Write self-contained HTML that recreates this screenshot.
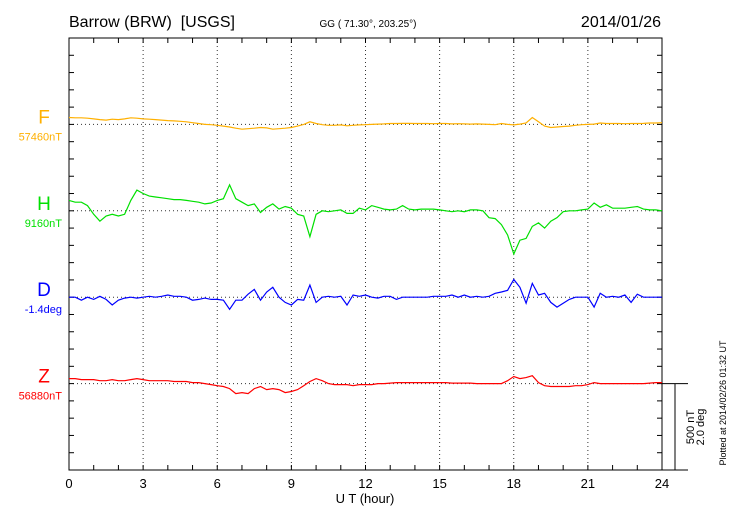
<!DOCTYPE html>
<html><head><meta charset="utf-8"><style>
html,body{margin:0;padding:0;background:#fff;}
svg{display:block;font-family:"Liberation Sans",sans-serif;}
</style></head><body>
<svg id="chart" width="730" height="520" viewBox="0 0 730 520">
<text x="69" y="27" font-size="16">Barrow (BRW)&#160; [USGS]</text>
<text x="368" y="27" font-size="10" text-anchor="middle">GG ( 71.30°, 203.25°)</text>
<text x="661" y="27" font-size="16" text-anchor="end">2014/01/26</text>
<g id="grid"></g><g id="axes"></g><g id="series"></g>
<text x="365" y="503" font-size="13" text-anchor="middle">U T (hour)</text>
<text transform="translate(694,427) rotate(-90)" font-size="11" text-anchor="middle">500 nT</text>
<text transform="translate(704,427) rotate(-90)" font-size="11" text-anchor="middle">2.0 deg</text>
<text transform="translate(726,403) rotate(-90)" font-size="9" text-anchor="middle">Plotted at 2014/02/26 01:32 UT</text>
</svg>
<script>
const hourTicks=[0,3,6,9,12,15,18,21,24];
const seriesNames=["F","H","D","Z"];
const seriesColors=["#ffb000","#00e000","#0000ff","#ff0000"];
const baseLabels=["57460nT","9160nT","-1.4deg","56880nT"];
const F=[40,38,38,36,
32,28,25,30,
28,32,38,36,
32,30,28,25,
22,20,18,15,
10,5,0,-2,
-5,-10,-15,-22,
-28,-25,-22,-18,
-20,-28,-25,-22,
-18,-10,0,15,
5,-2,-5,-5,
-3,-8,-5,-3,
-2,0,2,3,
5,5,6,6,
5,5,5,4,
5,5,3,4,
3,2,3,2,
0,-2,5,0,
-3,2,8,40,
15,-10,-18,-15,
-12,-10,-5,-2,
0,2,8,5,
5,5,4,5,
5,6,8,8,
10];
const H=[60,50,50,30,
-20,-60,-30,-20,
-30,-20,60,120,
100,85,80,75,
70,65,65,60,
55,50,40,45,
60,70,150,70,
50,30,40,-10,
20,40,10,25,
15,-20,-30,-150,
-20,0,-5,0,
5,-15,-15,15,
5,30,20,10,
5,10,30,10,
5,10,10,10,
5,0,-5,0,
-5,5,5,0,
-40,-45,-80,-140,
-250,-170,-160,-90,
-70,-100,-60,-40,
-5,0,0,5,
10,45,20,35,
15,15,15,20,
25,10,5,5,
0];
const D=[0,0,-0.07,0,
-0.05,0.02,-0.05,-0.18,
-0.07,-0.02,0,-0.02,
0,0.02,0,0.02,
0.05,0.02,0.02,0,
-0.07,-0.05,-0.02,-0.05,
-0.05,-0.07,-0.28,-0.07,
-0.07,0.07,0.18,-0.07,
0.12,0.23,0,-0.12,
-0.18,-0.05,-0.07,0.28,
-0.12,0,0.02,0,
0.02,-0.18,0.05,0.02,
0.05,0,-0.02,0.02,
0.02,-0.05,0,0,
0,0,0,0.02,
0.02,0.02,0.05,0,
0.05,0,0.02,0,
0.02,0.09,0.12,0.16,
0.41,0.23,-0.14,0.32,
0.05,0.09,-0.12,-0.23,
-0.14,-0.05,0,0,
0,-0.23,0.09,0,
0.02,0,0.05,-0.12,
0.07,0,0,0,
0];
const Z=[29,29,23,23,
23,17,17,23,
17,17,23,29,
23,17,17,17,
17,12,12,12,
6,6,0,-6,
-12,-17,-29,-58,
-52,-58,-29,-17,
-35,-29,-35,-52,
-46,-35,-12,12,
29,17,0,-6,
-6,-6,-12,-6,
-6,-6,0,0,
3,6,6,6,
6,6,6,6,
6,6,3,3,
3,3,0,0,
0,0,0,17,
41,29,35,46,
6,-12,-17,-17,
-17,-17,-12,-12,
-6,6,0,0,
0,0,0,0,
0,0,3,6,
6];
const seriesData=[F,H,D,Z];
const unitScale=[1,1,250,1]; // deg -> nT-equivalent (2.0 deg = 500 nT)
const L=69,R=662,T=38,B=470,tick=(B-T)/25,pxPerNT=tick/100;
const bases=[T+5*tick,T+10*tick,T+15*tick,T+20*tick];
const xs=h=>L+(R-L)*h/24;
const NS="http://www.w3.org/2000/svg";
function mk(tag,attrs,parent){const e=document.createElementNS(NS,tag);for(const k in attrs)e.setAttribute(k,attrs[k]);parent.appendChild(e);return e;}
const grid=document.getElementById('grid'),axes=document.getElementById('axes'),ser=document.getElementById('series');
hourTicks.forEach(h=>{
  if(h>0&&h<24){const g=mk('line',{x1:xs(h),x2:xs(h),y1:T,y2:B,stroke:'#333','stroke-width':1,'stroke-dasharray':'1,3'},grid);
  
  }
  const t=mk('text',{x:xs(h),y:488,'font-size':13,'text-anchor':'middle'},axes);
  t.textContent=h;
  
  
});
bases.forEach(b=>{
  const g=mk('line',{x1:L,x2:R,y1:b,y2:b,stroke:'#333','stroke-width':1,'stroke-dasharray':'1,3'},grid);
  
  
});
const frame=mk('rect',{x:L,y:T,width:R-L,height:B-T,fill:'none',stroke:'#000','stroke-width':1},axes);


for(let h=1;h<24;h++){
  mk('line',{x1:xs(h),x2:xs(h),y1:B,y2:B-5,stroke:'#000'},axes);
  mk('line',{x1:xs(h),x2:xs(h),y1:T,y2:T+5,stroke:'#000'},axes);
}
for(let i=1;i<25;i++){
  const y=T+i*tick;
  mk('line',{x1:L,x2:L+5,y1:y,y2:y,stroke:'#000'},axes);
  mk('line',{x1:R,x2:R-5,y1:y,y2:y,stroke:'#000'},axes);
}
const sb=mk('path',{d:`M${R} ${bases[3]}H688M675 ${bases[3]}V${B}M${R} ${B}H688`,stroke:'#000',fill:'none'},axes);


seriesData.forEach((arr,s)=>{
  const n=arr.length;
  let d='';
  arr.forEach((v,i)=>{const x=xs(i*24/(n-1));const y=bases[s]-v*unitScale[s]*pxPerNT;d+=(i?'L':'M')+x.toFixed(1)+' '+y.toFixed(1);});
  const p=mk('path',{d:d,fill:'none',stroke:seriesColors[s],'stroke-width':1.2},ser);
  
  
  const t=mk('text',{x:44,y:bases[s]-1,'font-size':19,'text-anchor':'middle',fill:seriesColors[s]},ser);
  t.textContent=seriesNames[s];
  
  
  const b=mk('text',{x:62,y:bases[s]+16,'font-size':11,'text-anchor':'end',fill:seriesColors[s]},ser);
  b.textContent=baseLabels[s];
  
  
});
</script>
</body></html>
